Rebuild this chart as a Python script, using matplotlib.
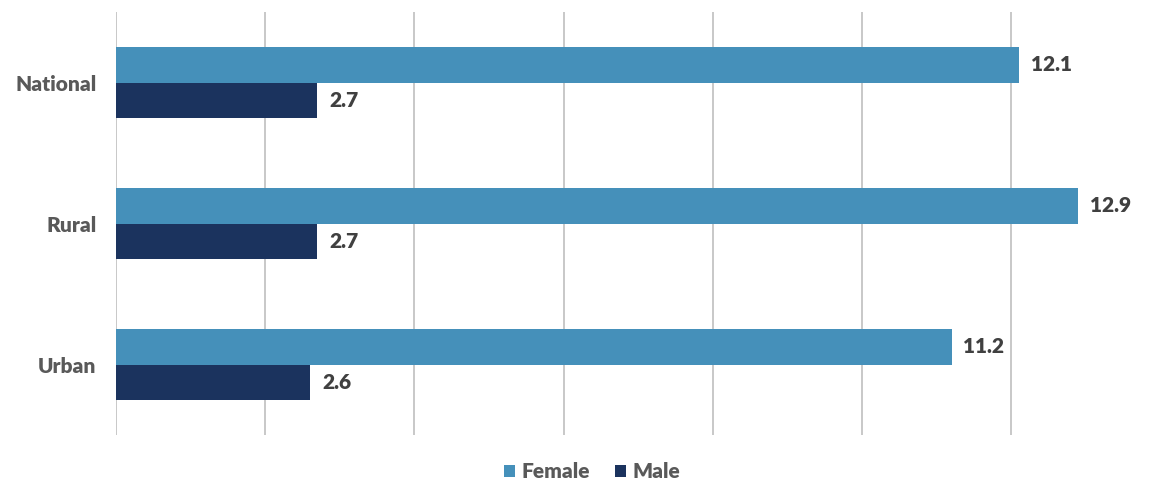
import matplotlib.pyplot as plt
import numpy as np

categories = ['National', 'Rural', 'Urban']
female = [12.1, 12.9, 11.2]
male = [2.7, 2.7, 2.6]

female_color = '#4590BA'
male_color = '#1B335E'

plt.rcParams['font.family'] = ['Lato', 'DejaVu Sans']

fig = plt.figure(figsize=(11.53, 4.82), dpi=100)
ax = fig.add_axes([116 / 1153, 47 / 482, 1022 / 1153, 423 / 482])

y = np.arange(len(categories))
h = 0.255
ax.barh(y - h / 2, female, height=h, color=female_color, label='Female', zorder=3)
ax.barh(y + h / 2, male, height=h, color=male_color, label='Male', zorder=3)

for yi, v in zip(y, female):
    ax.text(v + 0.16, yi - h / 2, f'{v:.1f}', va='center', ha='left',
            fontsize=15, fontweight='heavy', color='#404040')
for yi, v in zip(y, male):
    ax.text(v + 0.16, yi + h / 2, f'{v:.1f}', va='center', ha='left',
            fontsize=15, fontweight='heavy', color='#404040')

ax.set_xlim(0, 13.7)
ax.set_ylim(2.5, -0.5)
ax.set_xticks(np.arange(0, 14, 2))
ax.set_xticklabels([])
ax.tick_params(axis='x', length=0)
ax.tick_params(axis='y', length=0, pad=14)
ax.set_yticks(y)
ax.set_yticklabels(categories, fontsize=15, fontweight='heavy', color='#595959')
ax.grid(axis='x', color='#BFBFBF', linewidth=1.2, zorder=0)
for s in ax.spines.values():
    s.set_visible(False)

fig.legend(loc='center', bbox_to_anchor=(592 / 1153, 1 - 472 / 482), ncol=2,
           frameon=False, handlelength=0.55, handleheight=0.55,
           handletextpad=0.3, columnspacing=1.2,
           prop={'weight': 'heavy', 'size': 15})
for t in fig.legends[0].get_texts():
    t.set_color('#595959')

fig.savefig('out.png', dpi=100)
